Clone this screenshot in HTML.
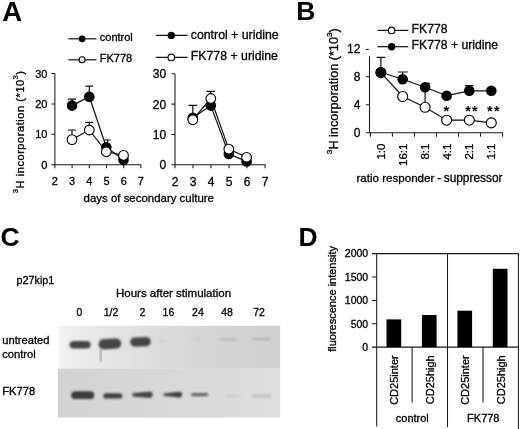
<!DOCTYPE html>
<html><head><meta charset="utf-8"><title>Figure</title>
<style>
html,body{margin:0;padding:0;background:#fff;}
body{width:520px;height:429px;overflow:hidden;}
svg{display:block;font-family:"Liberation Sans",Arial,sans-serif;fill:#000;}
text{stroke:#000;stroke-width:0.3px;}
.ax{stroke:#1a1a1a;stroke-width:1.05;fill:none;}
.ln{stroke:#111;stroke-width:1.2;fill:none;}
.t{font-size:11px;}
.pl{font-size:26.5px;font-weight:bold;fill:#000;stroke:none;}
</style></head><body>
<svg width="520" height="429" viewBox="0 0 520 429">
<defs>
<filter id="b1" x="-20%" y="-50%" width="140%" height="200%"><feGaussianBlur stdDeviation="1.0"/></filter>
<filter id="b2" x="-20%" y="-50%" width="140%" height="200%"><feGaussianBlur stdDeviation="1.2"/></filter>
<linearGradient id="gt" x1="0" x2="1" y1="0" y2="0">
<stop offset="0" stop-color="#f8f8f8"/><stop offset="0.03" stop-color="#f1f1f1"/><stop offset="0.1" stop-color="#ebebeb"/><stop offset="0.25" stop-color="#e5e5e5"/><stop offset="0.45" stop-color="#dcdcdc"/><stop offset="0.65" stop-color="#d5d5d5"/><stop offset="1" stop-color="#d0d0d0"/>
</linearGradient>
<linearGradient id="gb" x1="0" x2="1" y1="0" y2="0">
<stop offset="0" stop-color="#d3d3d3"/><stop offset="0.4" stop-color="#d7d7d7"/><stop offset="1" stop-color="#dedede"/>
</linearGradient>
</defs>
<rect width="520" height="429" fill="#fff"/>

<text class="pl" x="2.2" y="20.7" style="font-size:27.5px">A</text>
<path class="ln" d="M68.3 38.8H96.5"/>
<circle cx="82.1" cy="38.8" r="3.4" fill="#000" stroke="none"/>
<text class="t" x="99.8" y="41.2">control</text>
<path class="ln" d="M68.3 59.8H96.5"/>
<circle cx="82.1" cy="59.8" r="3.0" fill="#fff" stroke="#000" stroke-width="1.1"/>
<text class="t" x="99.8" y="61.9">FK778</text>
<path class="ln" d="M155.8 35.4H187.6"/>
<circle cx="171.3" cy="35.4" r="3.7" fill="#000" stroke="none"/>
<text x="190.8" y="38.5" font-size="12.3">control + uridine</text>
<path class="ln" d="M155.8 57.4H187.6"/>
<circle cx="171.3" cy="57.4" r="3.3" fill="#fff" stroke="#000" stroke-width="1.1"/>
<text x="190.8" y="59.8" font-size="12.3">FK778 + uridine</text>
<text x="47.4" y="168.7" font-size="11" text-anchor="end">0</text>
<text x="47.4" y="138.3" font-size="11" text-anchor="end">10</text>
<text x="47.4" y="107.9" font-size="11" text-anchor="end">20</text>
<text x="47.4" y="77.5" font-size="11" text-anchor="end">30</text>
<text x="54.9" y="185.4" font-size="11" text-anchor="middle">2</text>
<text x="72.1" y="185.4" font-size="11" text-anchor="middle">3</text>
<text x="89.3" y="185.4" font-size="11" text-anchor="middle">4</text>
<text x="106.5" y="185.4" font-size="11" text-anchor="middle">5</text>
<text x="123.7" y="185.4" font-size="11" text-anchor="middle">6</text>
<text x="140.9" y="185.4" font-size="11" text-anchor="middle">7</text>
<path class="ax" d="M54.9 73.5V164.7M51.4 164.7H140.9M51.4 134.3H54.9M51.4 103.9H54.9M51.4 73.5H54.9M54.9 164.2V168.2M72.1 164.2V168.2M89.3 164.2V168.2M106.5 164.2V168.2M123.7 164.2V168.2M140.9 164.2V168.2"/>
<text x="166.1" y="169.2" font-size="12" text-anchor="end">0</text>
<text x="166.1" y="138.9" font-size="12" text-anchor="end">10</text>
<text x="166.1" y="108.6" font-size="12" text-anchor="end">20</text>
<text x="166.1" y="78.3" font-size="12" text-anchor="end">30</text>
<text x="175.0" y="186.1" font-size="12" text-anchor="middle">2</text>
<text x="193.0" y="186.1" font-size="12" text-anchor="middle">3</text>
<text x="211.0" y="186.1" font-size="12" text-anchor="middle">4</text>
<text x="229.0" y="186.1" font-size="12" text-anchor="middle">5</text>
<text x="247.0" y="186.1" font-size="12" text-anchor="middle">6</text>
<text x="265.0" y="186.1" font-size="12" text-anchor="middle">7</text>
<path class="ax" d="M175.0 73.8V164.7M171.5 164.7H265.0M171.5 134.4H175.0M171.5 104.1H175.0M171.5 73.8H175.0M175.0 164.2V168.2M193.0 164.2V168.2M211.0 164.2V168.2M229.0 164.2V168.2M247.0 164.2V168.2M265.0 164.2V168.2"/>
<text class="t" transform="translate(23.8 193) rotate(-90)" textLength="122" lengthAdjust="spacing"><tspan font-size="7.2" dy="-6">3</tspan><tspan dy="6">H incorporation (*10</tspan><tspan font-size="7.2" dy="-6">3</tspan><tspan dy="6">)</tspan></text>
<text x="83.6" y="202" font-size="11.45">days of secondary culture</text>
<path class="ln" d="M72.0 105.6V99.2M68.0 99.2H76.0"/>
<path class="ln" d="M89.3 96.7V86.2M85.3 86.2H93.3"/>
<path class="ln" d="M107.5 147.2V140.0M104.2 140.0H110.8"/>
<path class="ln" d="M72.0 139.6V130.0M68.0 130.0H76.0"/>
<path class="ln" d="M89.3 130.0V122.3M85.3 122.3H93.3"/>
<polyline class="ln" points="72.0,105.6 89.3,96.7 106.3,147.2 123.5,159.8"/>
<circle cx="72.0" cy="105.6" r="5.3" fill="#000" stroke="none"/>
<circle cx="89.3" cy="96.7" r="5.3" fill="#000" stroke="none"/>
<circle cx="106.3" cy="147.2" r="5.3" fill="#000" stroke="none"/>
<circle cx="123.5" cy="159.8" r="5.3" fill="#000" stroke="none"/>
<polyline class="ln" points="72.0,139.6 89.3,130.0 106.3,151.8 123.5,155.4"/>
<circle cx="72.0" cy="139.6" r="4.85" fill="#fff" stroke="#000" stroke-width="1.1"/>
<circle cx="89.3" cy="130.0" r="4.85" fill="#fff" stroke="#000" stroke-width="1.1"/>
<circle cx="106.3" cy="151.8" r="4.85" fill="#fff" stroke="#000" stroke-width="1.1"/>
<circle cx="123.5" cy="155.4" r="4.85" fill="#fff" stroke="#000" stroke-width="1.1"/>
<path class="ln" d="M192.8 117.7V105.4M188.5 105.4H197.1"/>
<path class="ln" d="M210.8 98.5V91.3M206.5 91.3H215.1"/>
<polyline class="ln" points="192.8,117.7 210.8,105.6 228.8,154.0 246.6,161.4"/>
<circle cx="192.8" cy="117.7" r="5.3" fill="#000" stroke="none"/>
<circle cx="210.8" cy="105.6" r="5.3" fill="#000" stroke="none"/>
<circle cx="228.8" cy="154.0" r="5.3" fill="#000" stroke="none"/>
<circle cx="246.6" cy="161.4" r="5.3" fill="#000" stroke="none"/>
<polyline class="ln" points="192.8,119.7 210.8,98.5 228.8,149.1 246.6,157.3"/>
<circle cx="192.8" cy="119.7" r="4.85" fill="#fff" stroke="#000" stroke-width="1.1"/>
<circle cx="210.8" cy="98.5" r="4.85" fill="#fff" stroke="#000" stroke-width="1.1"/>
<circle cx="228.8" cy="149.1" r="4.85" fill="#fff" stroke="#000" stroke-width="1.1"/>
<circle cx="246.6" cy="157.3" r="4.85" fill="#fff" stroke="#000" stroke-width="1.1"/>
<text class="pl" x="296.3" y="20.3">B</text>
<path class="ln" d="M377.5 30.4H408.3"/>
<circle cx="391.6" cy="30.4" r="3.3" fill="#fff" stroke="#000" stroke-width="1.1"/>
<text x="411.6" y="33.1" font-size="12.2">FK778</text>
<path class="ln" d="M377.5 46.7H408.3"/>
<circle cx="391.6" cy="46.7" r="3.7" fill="#000" stroke="none"/>
<text x="411.6" y="49.2" font-size="12.2">FK778 + uridine</text>
<text x="360.4" y="137.0" font-size="12" text-anchor="end">0</text>
<text x="360.4" y="109.0" font-size="12" text-anchor="end">4</text>
<text x="360.4" y="81.0" font-size="12" text-anchor="end">8</text>
<text x="360.4" y="53.0" font-size="12" text-anchor="end">12</text>
<path class="ax" d="M369.5 56.2V132.7M365.9 132.7H502.6M365.9 104.7H369.5M365.9 76.7H369.5M365.9 49.5H368.8M370.4 132.2V136.7M392.4 132.2V136.7M414.5 132.2V136.7M436.5 132.2V136.7M458.5 132.2V136.7M480.5 132.2V136.7M502.6 132.2V136.7"/>
<text transform="translate(384.9 143.6) rotate(-90)" font-size="11.5" text-anchor="end">1:0</text>
<text transform="translate(406.7 143.6) rotate(-90)" font-size="11.5" text-anchor="end">16:1</text>
<text transform="translate(429.1 143.6) rotate(-90)" font-size="11.5" text-anchor="end">8:1</text>
<text transform="translate(450.6 143.6) rotate(-90)" font-size="11.5" text-anchor="end">4:1</text>
<text transform="translate(473.3 143.6) rotate(-90)" font-size="11.5" text-anchor="end">2:1</text>
<text transform="translate(495.3 143.6) rotate(-90)" font-size="11.5" text-anchor="end">1:1</text>
<text y="182" font-size="11.6"><tspan x="356.4">ratio responder</tspan><tspan x="437.3" font-size="12">-</tspan><tspan x="443.7" font-size="11.9">suppressor</tspan></text>
<text transform="translate(338.3 154.2) rotate(-90)" font-size="12.2" textLength="126" lengthAdjust="spacingAndGlyphs"><tspan font-size="8" dy="-6.3">3</tspan><tspan dy="6.3">H incorporation (*10</tspan><tspan font-size="8" dy="-6.3">3</tspan><tspan dy="6.3">)</tspan></text>
<path class="ln" d="M380.9 72.3V57.4M376.6 57.4H385.2"/>
<path class="ln" d="M402.7 79.3V72.0M397.7 72.0H407.7"/>
<path class="ln" d="M425.1 83.3V107M425.1 83.3H430.1"/>
<path class="ln" d="M469.3 90.8V85.6M465.1 85.6H473.5"/>
<polyline class="ln" points="380.9,72.6 402.7,96.5 425.1,107.3 446.6,120.2 469.3,120.2 491.3,122.9"/>
<circle cx="380.9" cy="72.6" r="5.0" fill="#fff" stroke="#000" stroke-width="1.1"/>
<circle cx="402.7" cy="96.5" r="5.0" fill="#fff" stroke="#000" stroke-width="1.1"/>
<circle cx="425.1" cy="107.3" r="5.0" fill="#fff" stroke="#000" stroke-width="1.1"/>
<circle cx="446.6" cy="120.2" r="5.0" fill="#fff" stroke="#000" stroke-width="1.1"/>
<circle cx="469.3" cy="120.2" r="5.0" fill="#fff" stroke="#000" stroke-width="1.1"/>
<circle cx="491.3" cy="122.9" r="5.0" fill="#fff" stroke="#000" stroke-width="1.1"/>
<polyline class="ln" points="380.9,72.3 402.7,79.3 425.1,87.3 446.6,95.7 469.3,90.8 491.3,90.8"/>
<circle cx="380.9" cy="72.3" r="5.3" fill="#000" stroke="none"/>
<circle cx="402.7" cy="79.3" r="5.3" fill="#000" stroke="none"/>
<circle cx="425.1" cy="87.3" r="5.3" fill="#000" stroke="none"/>
<circle cx="446.6" cy="95.7" r="5.3" fill="#000" stroke="none"/>
<circle cx="469.3" cy="90.8" r="5.3" fill="#000" stroke="none"/>
<circle cx="491.3" cy="90.8" r="5.3" fill="#000" stroke="none"/>
<text x="447.0" y="115.5" font-size="14.5" font-weight="bold" text-anchor="middle" letter-spacing="1.2" style="stroke:none">*</text>
<text x="472.1" y="115.5" font-size="14.5" font-weight="bold" text-anchor="middle" letter-spacing="1.2" style="stroke:none">**</text>
<text x="493.9" y="115.5" font-size="14.5" font-weight="bold" text-anchor="middle" letter-spacing="1.2" style="stroke:none">**</text>
<text class="pl" x="0.5" y="246">C</text>
<text x="16.5" y="283.9" font-size="10.8">p27kip1</text>
<text x="116" y="297" font-size="11.5">Hours after stimulation</text>
<text x="79.5" y="315.9" font-size="10.5" text-anchor="middle">0</text>
<text x="111" y="315.9" font-size="10.5" text-anchor="middle">1/2</text>
<text x="142.3" y="315.9" font-size="10.5" text-anchor="middle">2</text>
<text x="168.4" y="315.9" font-size="10.5" text-anchor="middle">16</text>
<text x="197.9" y="315.9" font-size="10.5" text-anchor="middle">24</text>
<text x="227" y="315.9" font-size="10.5" text-anchor="middle">48</text>
<text x="259" y="315.9" font-size="10.5" text-anchor="middle">72</text>
<text x="2.2" y="343.8" font-size="11.2">untreated</text><text x="2.2" y="357.6" font-size="11.2">control</text>
<text x="2.2" y="394.8" font-size="11.2">FK778</text>
<rect x="57.8" y="325.8" width="222.4" height="43" fill="url(#gt)"/>
<rect x="57.8" y="368.6" width="222.4" height="49" fill="url(#gb)"/>
<rect x="69.6" y="340.9" width="21.0" height="7.6" rx="3.8" fill="#444" opacity="1" filter="url(#b1)"/>
<rect x="98.6" y="338.8" width="22.6" height="10.2" rx="5.1" fill="#444" opacity="1" filter="url(#b1)" transform="rotate(-3 109.9 343.9)"/>
<rect x="130.2" y="337.2" width="20.6" height="9.2" rx="4.6" fill="#444" opacity="1" filter="url(#b1)" transform="rotate(-2 140.5 341.8)"/>
<rect x="100.2" y="349" width="1.4" height="12.5" fill="#777" filter="url(#b1)" opacity="0.85"/>
<rect x="160" y="340.2" width="6.0" height="2" rx="1.0" fill="#c4c4c4" opacity="0.7" filter="url(#b1)"/>
<rect x="192" y="338.6" width="9.0" height="2" rx="1.0" fill="#c8c8c8" opacity="0.6" filter="url(#b1)"/>
<rect x="219.5" y="338.2" width="16.5" height="2.8" rx="1.4" fill="#b6b6b6" opacity="0.8" filter="url(#b2)"/>
<rect x="251.5" y="337.6" width="19.5" height="2.8" rx="1.4" fill="#b2b2b2" opacity="0.8" filter="url(#b2)"/>
<rect x="71.2" y="391.3" width="23.0" height="7.8" rx="3.9" fill="#3a3a3a" opacity="1" filter="url(#b1)"/>
<rect x="103.3" y="393.2" width="19.0" height="5.4" rx="2.7" fill="#404040" opacity="1" filter="url(#b1)"/>
<path d="M132.5 393.2L149.4 391.6A3.2 3.2 0 0 1 149.4 398.0L132.5 396.4Z" fill="#454545" opacity="1" filter="url(#b1)"/>
<path d="M163.6 393.5L179.2 391.8A2.8 2.8 0 0 1 179.2 397.4L163.6 395.7Z" fill="#404040" opacity="1" filter="url(#b1)"/>
<rect x="191" y="392.9" width="17.3" height="3.4" rx="1.7" fill="#5a5a5a" opacity="0.9" filter="url(#b1)"/>
<rect x="226" y="394.9" width="14.0" height="2.2" rx="1.1" fill="#c6c6c6" opacity="0.8" filter="url(#b1)"/>
<rect x="251.5" y="394.4" width="20.0" height="3.2" rx="1.6" fill="#bcbcbc" opacity="0.85" filter="url(#b2)"/>
<text class="pl" x="298.5" y="245.5">D</text>
<text x="368.2" y="350.9" font-size="10.5" text-anchor="end">0</text>
<text x="368.2" y="327.5" font-size="10.5" text-anchor="end">500</text>
<text x="368.2" y="304.2" font-size="10.5" text-anchor="end">1000</text>
<text x="368.2" y="280.8" font-size="10.5" text-anchor="end">1500</text>
<text x="368.2" y="257.4" font-size="10.5" text-anchor="end">2000</text>
<path class="ax" d="M376.7 253.6H518.4V429M376.7 253.6V426.5M372.0 347.1H518.4M447.5 253.6V427M412.1 347.1V402.5M483.0 347.1V402.5M372.0 323.7H376.7M372.0 300.4H376.7M372.0 277.0H376.7M372.0 253.6H376.7"/>
<rect x="386.5" y="319.4" width="14.7" height="27.7" fill="#000"/>
<text class="t" transform="translate(398.2 355.3) rotate(-90)" text-anchor="end">CD25inter</text>
<rect x="421.9" y="315.0" width="14.7" height="32.1" fill="#000"/>
<text class="t" transform="translate(433.6 355.3) rotate(-90)" text-anchor="end">CD25high</text>
<rect x="457.4" y="310.7" width="14.7" height="36.4" fill="#000"/>
<text class="t" transform="translate(469.1 355.3) rotate(-90)" text-anchor="end">CD25inter</text>
<rect x="492.8" y="268.8" width="14.7" height="78.3" fill="#000"/>
<text class="t" transform="translate(504.5 355.3) rotate(-90)" text-anchor="end">CD25high</text>
<text class="t" x="412.3" y="421.8" text-anchor="middle">control</text>
<text class="t" x="483.3" y="422" text-anchor="middle">FK778</text>
<text transform="translate(335.8 351.8) rotate(-90)" font-size="11">fluorescence intensity</text>
</svg></body></html>
